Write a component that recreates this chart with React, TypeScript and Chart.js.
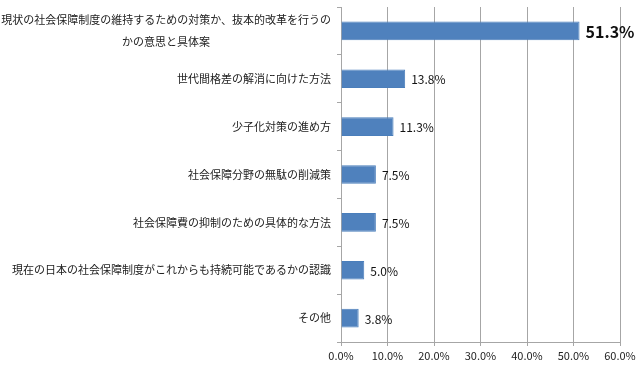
import React, { useEffect, useRef } from "react";
import { Chart, registerables } from "chart.js";

Chart.register(...registerables);

const categories: string[][] = [
  ["現状の社会保障制度の維持するための対策か、抜本的改革を行うの", "かの意思と具体案\u3000\u3000\u3000\u3000\u3000\u3000\u3000\u3000\u3000\u3000\u3000"],
  ["世代間格差の解消に向けた方法"],
  ["少子化対策の進め方"],
  ["社会保障分野の無駄の削減策"],
  ["社会保障費の抑制のための具体的な方法"],
  ["現在の日本の社会保障制度がこれからも持続可能であるかの認識"],
  ["その他"],
];
const values: number[] = [51.3, 13.8, 11.3, 7.5, 7.5, 5.0, 3.8];
const xTicks: number[] = [0, 10, 20, 30, 40, 50, 60];

const FONT = "'Noto Sans CJK JP', 'Noto Sans', sans-serif";

const valueLabels = {
  id: "valueLabels",
  afterDatasetsDraw(chart: any) {
    const ctx = chart.ctx;
    const meta = chart.getDatasetMeta(0);
    ctx.save();
    ctx.textBaseline = "middle";
    ctx.textAlign = "left";
    meta.data.forEach((bar: any, i: number) => {
      const v = values[i];
      const big = i === 0;
      ctx.font = big ? `bold 16px ${FONT}` : `12px ${FONT}`;
      ctx.fillStyle = "#111";
      ctx.fillText(v.toFixed(1) + "%", bar.x + 6, bar.y + 1);
    });
    ctx.restore();
  },
};

export default function App() {
  const ref = useRef<HTMLCanvasElement | null>(null);
  useEffect(() => {
    document.body.style.margin = "0";
    const chart = new Chart(ref.current as HTMLCanvasElement, {
      type: "bar",
      data: {
        labels: categories,
        datasets: [
          {
            data: values,
            backgroundColor: "#4F81BD",
            borderColor: "#4A7EBB",
            borderWidth: 1,
            barPercentage: 0.39,
            categoryPercentage: 1,
          },
        ],
      },
      options: {
        indexAxis: "y",
        animation: false,
        responsive: false,
        maintainAspectRatio: false,
        layout: { padding: { top: 7, right: 20, left: 0, bottom: 0 } },
        plugins: { legend: { display: false }, tooltip: { enabled: false } },
        scales: {
          x: {
            min: 0,
            max: 60,
            afterBuildTicks: (s: any) => {
              s.ticks = xTicks.map((v) => ({ value: v }));
            },
            afterFit: (s: any) => {
              s.height = 28;
              s.paddingLeft = 0;
              s.paddingRight = 0;
            },
            ticks: {
              callback: (v: any) => Number(v).toFixed(1) + "%",
              font: { family: FONT, size: 11 },
              color: "#222",
              padding: 3,
              maxRotation: 0,
            },
            grid: { color: "#A6A6A6", tickLength: 4, lineWidth: 1 },
            border: { color: "#A6A6A6" },
          },
          y: {
            afterFit: (s: any) => {
              s.width = 341;
              s.paddingTop = 0;
              s.paddingBottom = 0;
            },
            ticks: {
              font: { family: FONT, size: 11, lineHeight: 2 },
              color: "#222",
              padding: 6,
              autoSkip: false,
            },
            grid: { drawOnChartArea: false, color: "#A6A6A6", tickLength: 4, offset: true },
            border: { color: "#A6A6A6" },
          },
        },
      },
      plugins: [valueLabels],
    });
    return () => chart.destroy();
  }, []);
  return (
    <div style={{ width: 640, height: 370, background: "#fff" }}>
      <canvas ref={ref} width={640} height={370} style={{ display: "block" }} />
    </div>
  );
}
